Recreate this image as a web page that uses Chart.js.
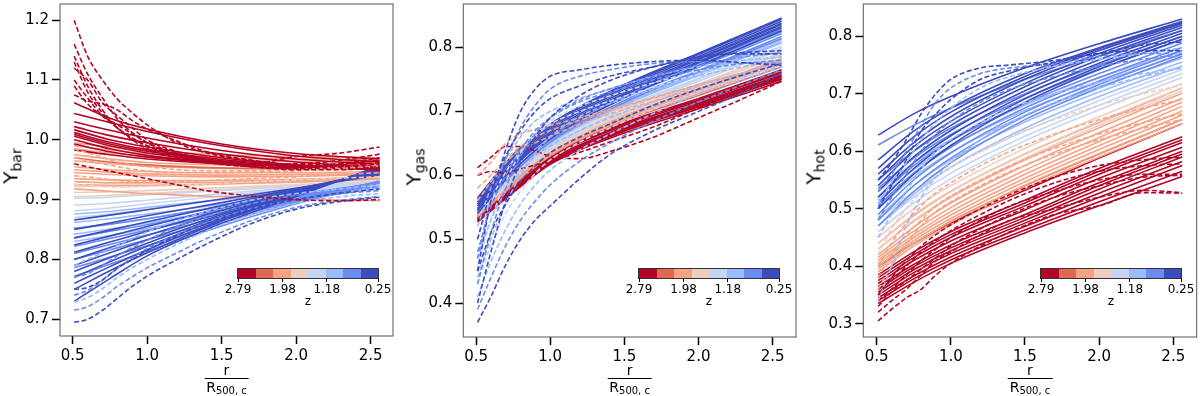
<!DOCTYPE html>
<html>
<head>
<meta charset="utf-8">
<script src="https://cdn.jsdelivr.net/npm/chart.js@4.4.0/dist/chart.umd.min.js"></script>
<style>
  body { margin: 0; background: #fff; width: 1200px; height: 396px; overflow: hidden; font-family: "DejaVu Sans", sans-serif; color: #000; }
  .panel { position: absolute; top: 0; width: 400px; height: 396px; }
  .panel canvas { position: absolute; left: 0; top: 0; }
  .ylab { position: absolute; font-size: 20px; white-space: nowrap; transform: translate(-50%, -50%) rotate(-90deg); line-height: 1; }
  .ylab sub { font-size: 14px; vertical-align: -0.3em; }
  .frac { position: absolute; top: 363px; transform: translateX(-50%); text-align: center; font-size: 14px; line-height: 14px; }
  .frac .den { border-top: 1px solid #000; margin-top: 1px; padding: 1px 2px 0; }
  .frac sub { font-size: 10px; vertical-align: -0.2em; }
  .cb { position: absolute; top: 269px; height: 9px; width: 140px; display: flex; outline: 1px solid #333; z-index: 2; }
  .cb div { flex: 1; }
  .cbtick { position: absolute; top: 278px; width: 1px; height: 4px; background: #000; z-index: 2; }
  .cblab { position: absolute; top: 282px; font-size: 12px; transform: translateX(-50%); z-index: 2; }
  .cbz { position: absolute; top: 294px; font-size: 12px; transform: translateX(-50%); z-index: 2; }
</style>
</head>
<body>
<script>
// redshift colour bins, high z (left of colour bar) to low z
const zBinColors = ['#b40426', '#e16852', '#f6a385', '#eccfc0', '#c5d5f2', '#9abbff', '#6a8bef', '#3b4cc0'];
const zTickValues = [2.79, 1.98, 1.18, 0.25];
const zTickLabels = ['2.79', '1.98', '1.18', '0.25'];

const xTicks = [0.5, 1.0, 1.5, 2.0, 2.5];
const barYTicks = [0.7, 0.8, 0.9, 1.0, 1.1, 1.2];
const gasYTicks = [0.4, 0.5, 0.6, 0.7, 0.8];
const hotYTicks = [0.3, 0.4, 0.5, 0.6, 0.7, 0.8];

// r / R500c sample points
const xSolid = [0.51, 0.75, 1.0, 1.5, 2.0, 2.56];
const xDash = [0.51, 0.6, 0.7, 0.8, 0.9, 1.0, 1.2, 1.4, 1.7, 2.0, 2.3, 2.56];

// rows: [z bin, values...]
const barSolid = [
  [3, 0.912, 0.913, 0.915, 0.920, 0.925, 0.931],
  [4, 0.902, 0.904, 0.908, 0.915, 0.922, 0.928],
  [4, 0.891, 0.894, 0.899, 0.910, 0.920, 0.930],
  [4, 0.881, 0.886, 0.893, 0.906, 0.918, 0.927],
  [4, 0.870, 0.876, 0.884, 0.900, 0.915, 0.926],
  [3, 0.922, 0.922, 0.923, 0.926, 0.930, 0.935],
  [3, 0.905, 0.907, 0.910, 0.917, 0.924, 0.930],
  [2, 0.995, 0.988, 0.982, 0.975, 0.972, 0.970],
  [2, 0.990, 0.983, 0.977, 0.970, 0.968, 0.966],
  [2, 0.985, 0.978, 0.972, 0.966, 0.964, 0.963],
  [2, 0.975, 0.968, 0.962, 0.958, 0.957, 0.958],
  [1, 0.970, 0.963, 0.958, 0.953, 0.952, 0.953],
  [2, 0.965, 0.960, 0.956, 0.952, 0.951, 0.952],
  [2, 0.955, 0.950, 0.947, 0.945, 0.945, 0.947],
  [2, 0.950, 0.946, 0.943, 0.941, 0.942, 0.944],
  [2, 0.945, 0.942, 0.940, 0.938, 0.939, 0.942],
  [2, 0.935, 0.933, 0.932, 0.932, 0.934, 0.938],
  [2, 0.930, 0.928, 0.928, 0.929, 0.932, 0.936],
  [2, 0.925, 0.924, 0.924, 0.926, 0.929, 0.934],
  [2, 0.918, 0.914, 0.910, 0.905, 0.901, 0.898],
  [5, 0.876, 0.880, 0.887, 0.900, 0.912, 0.925],
  [5, 0.862, 0.868, 0.876, 0.892, 0.907, 0.922],
  [5, 0.852, 0.859, 0.868, 0.887, 0.905, 0.921],
  [5, 0.842, 0.851, 0.861, 0.882, 0.902, 0.920],
  [5, 0.830, 0.840, 0.852, 0.877, 0.899, 0.919],
  [6, 0.852, 0.859, 0.868, 0.889, 0.908, 0.928],
  [6, 0.836, 0.847, 0.858, 0.882, 0.905, 0.929],
  [6, 0.822, 0.835, 0.849, 0.876, 0.902, 0.930],
  [6, 0.810, 0.825, 0.841, 0.871, 0.900, 0.930],
  [6, 0.800, 0.816, 0.833, 0.866, 0.898, 0.931],
  [6, 0.786, 0.804, 0.823, 0.861, 0.896, 0.929],
  [6, 0.772, 0.792, 0.814, 0.856, 0.893, 0.928],
  [7, 0.866, 0.874, 0.883, 0.901, 0.919, 0.941],
  [7, 0.850, 0.861, 0.873, 0.895, 0.918, 0.943],
  [7, 0.836, 0.849, 0.863, 0.890, 0.918, 0.945],
  [7, 0.824, 0.839, 0.855, 0.886, 0.916, 0.946],
  [7, 0.812, 0.829, 0.847, 0.882, 0.915, 0.948],
  [7, 0.800, 0.820, 0.840, 0.878, 0.913, 0.949],
  [7, 0.790, 0.811, 0.833, 0.875, 0.912, 0.950],
  [7, 0.780, 0.803, 0.827, 0.872, 0.911, 0.951],
  [7, 0.770, 0.796, 0.822, 0.869, 0.910, 0.952],
  [7, 0.760, 0.788, 0.816, 0.866, 0.908, 0.954],
  [7, 0.750, 0.781, 0.811, 0.864, 0.907, 0.955],
  [7, 0.730, 0.768, 0.806, 0.860, 0.905, 0.957],
  [0, 1.062, 1.036, 1.018, 0.993, 0.977, 0.968],
  [0, 1.044, 1.029, 1.014, 0.990, 0.973, 0.963],
  [0, 1.030, 1.016, 1.003, 0.982, 0.968, 0.959],
  [0, 1.022, 1.007, 0.995, 0.976, 0.963, 0.955],
  [0, 1.017, 1.000, 0.988, 0.970, 0.958, 0.950],
  [0, 1.012, 0.996, 0.984, 0.967, 0.957, 0.951],
  [0, 1.009, 0.993, 0.981, 0.965, 0.956, 0.950],
  [0, 1.006, 0.990, 0.978, 0.963, 0.955, 0.950],
  [0, 1.000, 0.985, 0.974, 0.962, 0.956, 0.953],
  [0, 0.993, 0.980, 0.971, 0.961, 0.956, 0.954],
  [0, 0.983, 0.975, 0.968, 0.960, 0.956, 0.955]
];
const barDashed = [
  [2, 0.985, 0.978, 0.970, 0.963, 0.958, 0.955, 0.950, 0.948, 0.948, 0.950, 0.955, 0.960],
  [2, 0.970, 0.965, 0.960, 0.955, 0.951, 0.948, 0.945, 0.945, 0.946, 0.948, 0.952, 0.956],
  [2, 0.940, 0.938, 0.935, 0.932, 0.930, 0.930, 0.930, 0.932, 0.935, 0.938, 0.942, 0.945],
  [3, 0.925, 0.924, 0.922, 0.921, 0.921, 0.922, 0.924, 0.926, 0.930, 0.933, 0.936, 0.938],
  [7, 0.695, 0.700, 0.715, 0.735, 0.755, 0.772, 0.800, 0.826, 0.860, 0.884, 0.897, 0.904],
  [6, 0.715, 0.721, 0.736, 0.755, 0.771, 0.786, 0.811, 0.835, 0.865, 0.887, 0.899, 0.905],
  [5, 0.729, 0.736, 0.751, 0.770, 0.786, 0.800, 0.825, 0.848, 0.875, 0.894, 0.905, 0.910],
  [6, 0.740, 0.748, 0.765, 0.785, 0.803, 0.818, 0.842, 0.862, 0.885, 0.900, 0.910, 0.915],
  [7, 0.750, 0.753, 0.766, 0.785, 0.800, 0.815, 0.840, 0.860, 0.884, 0.900, 0.911, 0.918],
  [6, 0.770, 0.776, 0.790, 0.806, 0.820, 0.832, 0.855, 0.872, 0.893, 0.907, 0.915, 0.922],
  [5, 0.790, 0.800, 0.811, 0.823, 0.835, 0.846, 0.865, 0.880, 0.899, 0.910, 0.918, 0.925],
  [0, 1.200, 1.140, 1.100, 1.068, 1.045, 1.025, 0.995, 0.978, 0.965, 0.958, 0.956, 0.960],
  [0, 1.160, 1.110, 1.070, 1.035, 1.012, 0.995, 0.975, 0.965, 0.955, 0.950, 0.950, 0.955],
  [0, 1.140, 1.090, 1.050, 1.020, 1.000, 0.985, 0.970, 0.962, 0.955, 0.953, 0.960, 0.970],
  [0, 1.130, 1.080, 1.045, 1.020, 1.003, 0.990, 0.973, 0.962, 0.955, 0.952, 0.955, 0.962],
  [0, 1.120, 1.100, 1.062, 1.040, 1.020, 1.000, 0.980, 0.966, 0.960, 0.972, 0.978, 0.988],
  [0, 1.100, 1.070, 1.040, 1.020, 1.002, 0.990, 0.975, 0.965, 0.960, 0.960, 0.966, 0.976],
  [0, 1.090, 1.060, 1.040, 1.025, 1.010, 0.995, 0.978, 0.966, 0.957, 0.954, 0.958, 0.966],
  [0, 1.075, 1.065, 1.060, 1.050, 1.032, 1.018, 0.998, 0.980, 0.966, 0.958, 0.960, 0.965],
  [0, 0.960, 0.955, 0.950, 0.945, 0.940, 0.935, 0.925, 0.915, 0.906, 0.900, 0.898, 0.900]
];

const gasSolid = [
  [0, 0.527, 0.573, 0.617, 0.666, 0.704, 0.747],
  [0, 0.528, 0.575, 0.619, 0.669, 0.707, 0.750],
  [0, 0.529, 0.576, 0.620, 0.670, 0.708, 0.751],
  [0, 0.530, 0.577, 0.621, 0.672, 0.710, 0.753],
  [0, 0.532, 0.578, 0.622, 0.673, 0.712, 0.755],
  [0, 0.533, 0.579, 0.624, 0.675, 0.713, 0.757],
  [0, 0.535, 0.581, 0.627, 0.678, 0.716, 0.760],
  [0, 0.536, 0.582, 0.628, 0.680, 0.718, 0.762],
  [0, 0.538, 0.584, 0.630, 0.682, 0.720, 0.765],
  [1, 0.535, 0.584, 0.630, 0.685, 0.725, 0.770],
  [2, 0.535, 0.586, 0.631, 0.687, 0.728, 0.775],
  [2, 0.537, 0.589, 0.633, 0.690, 0.731, 0.779],
  [2, 0.538, 0.588, 0.632, 0.689, 0.733, 0.781],
  [2, 0.540, 0.591, 0.636, 0.693, 0.735, 0.783],
  [3, 0.538, 0.593, 0.638, 0.696, 0.739, 0.787],
  [3, 0.540, 0.594, 0.639, 0.697, 0.741, 0.790],
  [3, 0.542, 0.596, 0.641, 0.699, 0.743, 0.792],
  [4, 0.540, 0.597, 0.643, 0.702, 0.747, 0.797],
  [4, 0.542, 0.600, 0.645, 0.704, 0.750, 0.800],
  [4, 0.545, 0.602, 0.648, 0.707, 0.752, 0.802],
  [5, 0.543, 0.603, 0.650, 0.710, 0.756, 0.807],
  [5, 0.545, 0.604, 0.651, 0.712, 0.758, 0.809],
  [5, 0.548, 0.607, 0.654, 0.714, 0.760, 0.812],
  [6, 0.542, 0.603, 0.652, 0.714, 0.762, 0.814],
  [6, 0.545, 0.607, 0.655, 0.717, 0.764, 0.817],
  [6, 0.548, 0.612, 0.660, 0.722, 0.769, 0.822],
  [6, 0.552, 0.615, 0.662, 0.724, 0.772, 0.825],
  [6, 0.555, 0.618, 0.665, 0.727, 0.775, 0.828],
  [7, 0.540, 0.607, 0.657, 0.721, 0.771, 0.826],
  [7, 0.545, 0.612, 0.662, 0.726, 0.776, 0.831],
  [7, 0.548, 0.615, 0.665, 0.728, 0.778, 0.833],
  [7, 0.552, 0.618, 0.668, 0.731, 0.781, 0.836],
  [7, 0.555, 0.621, 0.671, 0.734, 0.783, 0.838],
  [7, 0.558, 0.625, 0.674, 0.737, 0.786, 0.841],
  [7, 0.562, 0.628, 0.677, 0.740, 0.789, 0.844],
  [7, 0.565, 0.632, 0.680, 0.742, 0.791, 0.846]
];
const gasDashed = [
  [0, 0.612, 0.628, 0.645, 0.645, 0.638, 0.630, 0.626, 0.637, 0.660, 0.690, 0.720, 0.747],
  [0, 0.600, 0.606, 0.603, 0.610, 0.616, 0.622, 0.636, 0.652, 0.676, 0.705, 0.731, 0.756],
  [2, 0.600, 0.620, 0.650, 0.665, 0.672, 0.678, 0.690, 0.703, 0.722, 0.742, 0.760, 0.775],
  [2, 0.580, 0.600, 0.625, 0.645, 0.660, 0.670, 0.686, 0.701, 0.721, 0.741, 0.760, 0.776],
  [2, 0.560, 0.590, 0.620, 0.640, 0.651, 0.661, 0.680, 0.696, 0.716, 0.736, 0.755, 0.771],
  [7, 0.450, 0.560, 0.640, 0.700, 0.735, 0.755, 0.765, 0.772, 0.778, 0.780, 0.776, 0.772],
  [6, 0.470, 0.560, 0.625, 0.675, 0.710, 0.735, 0.755, 0.765, 0.775, 0.778, 0.776, 0.775],
  [7, 0.400, 0.480, 0.560, 0.620, 0.660, 0.690, 0.725, 0.748, 0.770, 0.785, 0.792, 0.795],
  [7, 0.500, 0.575, 0.630, 0.670, 0.700, 0.720, 0.740, 0.755, 0.770, 0.785, 0.790, 0.790],
  [6, 0.430, 0.510, 0.580, 0.630, 0.665, 0.690, 0.718, 0.735, 0.755, 0.772, 0.785, 0.792],
  [5, 0.520, 0.580, 0.625, 0.660, 0.685, 0.700, 0.720, 0.735, 0.755, 0.770, 0.780, 0.785],
  [4, 0.460, 0.530, 0.590, 0.635, 0.665, 0.685, 0.708, 0.724, 0.745, 0.763, 0.777, 0.786],
  [6, 0.480, 0.550, 0.600, 0.640, 0.670, 0.690, 0.715, 0.730, 0.750, 0.765, 0.775, 0.780],
  [5, 0.440, 0.500, 0.555, 0.600, 0.635, 0.660, 0.692, 0.712, 0.735, 0.755, 0.770, 0.780],
  [7, 0.370, 0.410, 0.460, 0.500, 0.530, 0.552, 0.595, 0.632, 0.670, 0.700, 0.730, 0.760],
  [6, 0.390, 0.440, 0.490, 0.530, 0.560, 0.585, 0.622, 0.650, 0.685, 0.715, 0.742, 0.765],
  [5, 0.410, 0.465, 0.515, 0.555, 0.585, 0.608, 0.640, 0.664, 0.697, 0.727, 0.750, 0.769],
  [4, 0.430, 0.490, 0.540, 0.575, 0.603, 0.624, 0.652, 0.674, 0.704, 0.731, 0.754, 0.772],
  [7, 0.450, 0.510, 0.555, 0.590, 0.615, 0.635, 0.660, 0.680, 0.710, 0.735, 0.757, 0.775],
  [5, 0.470, 0.530, 0.575, 0.605, 0.630, 0.646, 0.670, 0.690, 0.715, 0.740, 0.760, 0.778],
  [4, 0.500, 0.560, 0.605, 0.638, 0.662, 0.680, 0.700, 0.716, 0.738, 0.758, 0.775, 0.788]
];

const hotSolid = [
  [0, 0.335, 0.372, 0.405, 0.458, 0.505, 0.556],
  [0, 0.340, 0.378, 0.411, 0.463, 0.512, 0.565],
  [0, 0.345, 0.383, 0.416, 0.469, 0.520, 0.575],
  [0, 0.350, 0.389, 0.422, 0.475, 0.527, 0.582],
  [0, 0.355, 0.394, 0.427, 0.480, 0.534, 0.590],
  [0, 0.360, 0.399, 0.432, 0.485, 0.540, 0.595],
  [0, 0.365, 0.403, 0.437, 0.490, 0.545, 0.600],
  [0, 0.370, 0.410, 0.444, 0.498, 0.553, 0.607],
  [0, 0.375, 0.415, 0.450, 0.505, 0.560, 0.615],
  [0, 0.380, 0.420, 0.455, 0.510, 0.565, 0.620],
  [0, 0.385, 0.425, 0.460, 0.515, 0.570, 0.625],
  [0, 0.400, 0.440, 0.475, 0.532, 0.588, 0.648],
  [1, 0.400, 0.440, 0.478, 0.540, 0.595, 0.655],
  [2, 0.390, 0.435, 0.472, 0.535, 0.590, 0.648],
  [2, 0.395, 0.440, 0.477, 0.541, 0.596, 0.655],
  [2, 0.400, 0.445, 0.483, 0.547, 0.603, 0.663],
  [2, 0.405, 0.450, 0.489, 0.553, 0.610, 0.670],
  [2, 0.410, 0.455, 0.495, 0.560, 0.617, 0.678],
  [2, 0.415, 0.461, 0.502, 0.567, 0.624, 0.685],
  [2, 0.420, 0.468, 0.510, 0.575, 0.632, 0.692],
  [2, 0.430, 0.478, 0.520, 0.585, 0.641, 0.701],
  [2, 0.440, 0.488, 0.530, 0.595, 0.650, 0.710],
  [3, 0.430, 0.480, 0.522, 0.588, 0.645, 0.705],
  [3, 0.440, 0.490, 0.531, 0.596, 0.652, 0.711],
  [3, 0.450, 0.500, 0.540, 0.605, 0.660, 0.718],
  [4, 0.460, 0.510, 0.552, 0.618, 0.672, 0.728],
  [4, 0.470, 0.520, 0.562, 0.626, 0.680, 0.735],
  [4, 0.480, 0.530, 0.572, 0.635, 0.688, 0.742],
  [5, 0.470, 0.525, 0.572, 0.640, 0.695, 0.748],
  [5, 0.485, 0.540, 0.585, 0.651, 0.703, 0.755],
  [5, 0.500, 0.555, 0.598, 0.662, 0.712, 0.762],
  [5, 0.515, 0.568, 0.609, 0.671, 0.720, 0.768],
  [5, 0.530, 0.580, 0.620, 0.680, 0.728, 0.775],
  [6, 0.470, 0.530, 0.580, 0.655, 0.710, 0.765],
  [6, 0.480, 0.540, 0.588, 0.661, 0.716, 0.770],
  [6, 0.490, 0.550, 0.597, 0.668, 0.722, 0.775],
  [6, 0.505, 0.562, 0.607, 0.675, 0.728, 0.781],
  [6, 0.520, 0.575, 0.618, 0.683, 0.735, 0.788],
  [6, 0.535, 0.588, 0.629, 0.692, 0.743, 0.794],
  [6, 0.550, 0.600, 0.640, 0.700, 0.750, 0.800],
  [6, 0.611, 0.645, 0.675, 0.725, 0.765, 0.810],
  [7, 0.500, 0.560, 0.610, 0.685, 0.742, 0.795],
  [7, 0.510, 0.570, 0.618, 0.691, 0.747, 0.800],
  [7, 0.520, 0.580, 0.627, 0.698, 0.753, 0.805],
  [7, 0.530, 0.590, 0.636, 0.705, 0.759, 0.810],
  [7, 0.540, 0.600, 0.645, 0.712, 0.765, 0.815],
  [7, 0.550, 0.608, 0.652, 0.718, 0.770, 0.819],
  [7, 0.560, 0.615, 0.660, 0.725, 0.775, 0.822],
  [7, 0.570, 0.625, 0.668, 0.730, 0.778, 0.824],
  [7, 0.585, 0.635, 0.675, 0.735, 0.780, 0.826],
  [7, 0.628, 0.665, 0.695, 0.745, 0.787, 0.830]
];
const hotDashed = [
  [0, 0.305, 0.325, 0.345, 0.360, 0.385, 0.405, 0.435, 0.460, 0.490, 0.505, 0.528, 0.527],
  [0, 0.320, 0.340, 0.360, 0.385, 0.410, 0.425, 0.455, 0.480, 0.500, 0.520, 0.532, 0.528],
  [0, 0.330, 0.355, 0.375, 0.395, 0.415, 0.435, 0.465, 0.490, 0.520, 0.540, 0.555, 0.558],
  [0, 0.340, 0.360, 0.385, 0.410, 0.430, 0.450, 0.480, 0.505, 0.530, 0.550, 0.560, 0.560],
  [0, 0.360, 0.375, 0.400, 0.425, 0.445, 0.462, 0.490, 0.515, 0.545, 0.565, 0.575, 0.578],
  [0, 0.350, 0.380, 0.410, 0.435, 0.455, 0.472, 0.500, 0.525, 0.555, 0.575, 0.585, 0.590],
  [2, 0.400, 0.440, 0.475, 0.505, 0.528, 0.545, 0.575, 0.600, 0.630, 0.655, 0.675, 0.690],
  [2, 0.380, 0.420, 0.455, 0.480, 0.505, 0.522, 0.550, 0.575, 0.605, 0.630, 0.650, 0.665],
  [2, 0.360, 0.400, 0.440, 0.470, 0.495, 0.512, 0.540, 0.565, 0.595, 0.620, 0.640, 0.655],
  [3, 0.420, 0.465, 0.500, 0.530, 0.555, 0.572, 0.600, 0.625, 0.655, 0.680, 0.700, 0.715],
  [5, 0.340, 0.400, 0.470, 0.520, 0.555, 0.580, 0.620, 0.650, 0.685, 0.710, 0.730, 0.745],
  [5, 0.450, 0.490, 0.530, 0.570, 0.600, 0.620, 0.650, 0.675, 0.700, 0.720, 0.735, 0.745],
  [6, 0.480, 0.520, 0.560, 0.600, 0.630, 0.652, 0.685, 0.708, 0.730, 0.748, 0.760, 0.768],
  [5, 0.510, 0.545, 0.580, 0.620, 0.650, 0.675, 0.710, 0.730, 0.748, 0.760, 0.770, 0.780],
  [7, 0.500, 0.540, 0.585, 0.635, 0.665, 0.690, 0.725, 0.740, 0.755, 0.770, 0.785, 0.790],
  [6, 0.530, 0.560, 0.600, 0.645, 0.685, 0.710, 0.735, 0.745, 0.752, 0.765, 0.770, 0.770],
  [7, 0.550, 0.580, 0.620, 0.665, 0.700, 0.725, 0.745, 0.750, 0.758, 0.770, 0.775, 0.775]
];

// panel geometry (pixels), axis ranges and bin draw priority (last on top)
const panels = [
  { left: 0, sub: 'bar', solid: barSolid, dashed: barDashed, yTicks: barYTicks, drawOrder: [3, 4, 2, 1, 5, 6, 7, 0],
    xMin: 0.415, xMax: 2.65, yMin: 0.672, yMax: 1.227, axisW: 60, axisH: 60, padRight: 7, cbLeft: 238 },
  { left: 400, sub: 'gas', solid: gasSolid, dashed: gasDashed, yTicks: gasYTicks, drawOrder: [0, 1, 2, 3, 4, 5, 6, 7],
    xMin: 0.414, xMax: 2.657, yMin: 0.347, yMax: 0.868, axisW: 63.3, axisH: 59, padRight: 4, cbLeft: 239 },
  { left: 800, sub: 'hot', solid: hotSolid, dashed: hotDashed, yTicks: hotYTicks, drawOrder: [0, 1, 2, 3, 4, 5, 6, 7],
    xMin: 0.41, xMax: 2.658, yMin: 0.277, yMax: 0.856, axisW: 63.3, axisH: 59, padRight: 3.3, cbLeft: 241 }
];

const FONT = '"DejaVu Sans", sans-serif';

const framePlugin = {
  id: 'frame',
  afterDraw(chart) {
    const { ctx, chartArea: a } = chart;
    ctx.save();
    ctx.strokeStyle = '#555';
    ctx.lineWidth = 1;
    ctx.strokeRect(a.left, a.top, a.right - a.left, a.bottom - a.top);
    ctx.restore();
  }
};

function axisOpts(min, max, ticks, fit) {
  return {
    type: 'linear',
    min, max,
    afterBuildTicks: s => { s.ticks = ticks.map(v => ({ value: v })); },
    afterFit: s => {
      fit(s);
      s.paddingTop = 0; s.paddingBottom = 0; s.paddingLeft = 0; s.paddingRight = 0;
    },
    ticks: {
      callback: v => Number(v).toFixed(1),
      font: { size: 15, family: FONT },
      color: '#000',
      padding: 3,
      maxRotation: 0,
      autoSkip: false
    },
    grid: { drawOnChartArea: false, drawTicks: true, tickLength: 8, tickColor: '#000', tickWidth: 1.5 },
    border: { display: false }
  };
}

function buildPanel(p) {
  const wrap = document.createElement('div');
  wrap.className = 'panel';
  wrap.style.left = p.left + 'px';
  document.body.appendChild(wrap);

  const canvas = document.createElement('canvas');
  canvas.width = 400;
  canvas.height = 396;
  wrap.appendChild(canvas);

  const rank = r => p.drawOrder.indexOf(r[0]);
  const sortRows = rows => rows.map((r, i) => ({ r, i }))
    .sort((a, b) => rank(a.r) - rank(b.r) || a.i - b.i)
    .map(o => o.r);

  const datasets = [];
  const addRows = (rows, xs, dashed) => sortRows(rows).forEach(r => {
    datasets.push({
      data: xs.map((x, i) => ({ x, y: r[i + 1] })),
      borderColor: zBinColors[r[0]],
      borderWidth: 1.6,
      borderDash: dashed ? [5, 2.5] : [],
      pointRadius: 0,
      fill: false,
      cubicInterpolationMode: 'monotone'
    });
  });
  addRows(p.solid, xSolid, false);
  addRows(p.dashed, xDash, true);
  // later rows drawn on top
  datasets.forEach((d, i) => { d.order = -i; });

  new Chart(canvas, {
    type: 'line',
    data: { datasets },
    options: {
      responsive: false,
      animation: false,
      devicePixelRatio: 1,
      layout: { padding: { top: 4, right: p.padRight, left: 0, bottom: 0 } },
      plugins: { legend: { display: false }, tooltip: { enabled: false } },
      scales: {
        x: axisOpts(p.xMin, p.xMax, xTicks, s => { s.height = p.axisH; }),
        y: axisOpts(p.yMin, p.yMax, p.yTicks, s => { s.width = p.axisW; })
      }
    },
    plugins: [framePlugin]
  });

  const plotTop = 4, plotBottom = 396 - p.axisH;
  const plotLeft = p.axisW, plotRight = 400 - p.padRight;
  const cx = (plotLeft + plotRight) / 2;

  const ylab = document.createElement('div');
  ylab.className = 'ylab';
  ylab.innerHTML = 'Y<sub>' + p.sub + '</sub>';
  ylab.style.left = (p.axisW - 48) + 'px';
  ylab.style.top = ((plotTop + plotBottom) / 2 - 4) + 'px';
  wrap.appendChild(ylab);

  const frac = document.createElement('div');
  frac.className = 'frac';
  frac.style.left = cx + 'px';
  frac.innerHTML = '<div>r</div><div class="den">R<sub>500, c</sub></div>';
  wrap.appendChild(frac);

  // colour bar
  const cbW = 140;
  const cb = document.createElement('div');
  cb.className = 'cb';
  cb.style.left = p.cbLeft + 'px';
  zBinColors.forEach(c => {
    const cell = document.createElement('div');
    cell.style.background = c;
    cb.appendChild(cell);
  });
  wrap.appendChild(cb);

  const zMax = zTickValues[0], zMin = zTickValues[zTickValues.length - 1];
  zTickValues.forEach((z, i) => {
    const px = p.cbLeft + (zMax - z) / (zMax - zMin) * cbW;
    const t = document.createElement('div');
    t.className = 'cbtick';
    t.style.left = (px - 0.5) + 'px';
    wrap.appendChild(t);
    const l = document.createElement('div');
    l.className = 'cblab';
    l.style.left = px + 'px';
    l.textContent = zTickLabels[i];
    wrap.appendChild(l);
  });
  const zl = document.createElement('div');
  zl.className = 'cbz';
  zl.style.left = (p.cbLeft + cbW / 2) + 'px';
  zl.textContent = 'z';
  wrap.appendChild(zl);
}

panels.forEach(buildPanel);
</script>
</body>
</html>
